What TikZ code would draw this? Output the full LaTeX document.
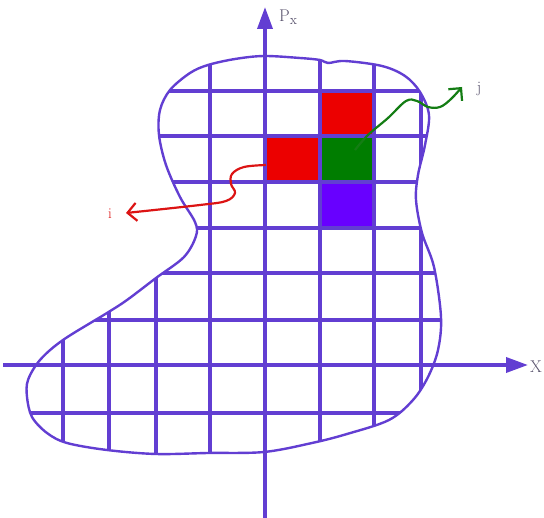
\documentclass[tikz,border=0pt]{standalone}
\usetikzlibrary{arrows.meta}
\definecolor{gridc}{RGB}{98,62,210}
\definecolor{cellred}{RGB}{236,0,0}
\definecolor{cellgreen}{RGB}{0,125,0}
\definecolor{cellpurple}{RGB}{104,0,255}
\definecolor{labgray}{RGB}{90,84,110}
\definecolor{ired}{RGB}{220,20,20}
\definecolor{jgreen}{RGB}{20,125,20}
\begin{document}
\begin{tikzpicture}[x=1pt,y=-1pt,
  gridline/.style={draw=gridc,line width=3.8pt},
  outline/.style={draw=gridc,line width=2.4pt},
  axis/.style={draw=gridc,line width=3.6pt,-{Triangle[length=22pt,width=15pt]}},
  wavyi/.style={draw=ired,line width=2.2pt,-{Straight Barb[length=9pt,width=18pt,line width=2.2pt]}},
  wavyj/.style={draw=jgreen,line width=2.2pt,-{Straight Barb[length=9pt,width=18pt,line width=2.2pt]}},
  lab/.style={text=labgray,font=\fontsize{17}{19}\selectfont,inner sep=0pt}
]
\useasboundingbox (0,0) rectangle (544,518);
\def\blob{plot[smooth cycle,tension=0.55] coordinates {(170,90) (190,73) (208,65) (235,59) (264,56) (300,58) (320,60) (328,63) (345,61) (382,66) (405,76) (420,92) (429,115) (425,145) (418,175) (416,200) (422,233) (434,267) (441,317) (438,350) (428,377) (413,400) (389,420) (347,434) (312,443) (264,452) (208,453) (156,454) (107,450) (67,443) (47,433) (32,417) (27,397) (28,380) (40,360) (63,340) (107,313) (127,300) (156,278) (184,257) (196,236) (195,222) (180,197) (166,165) (159,135) (160,110)}}
% coloured cells
\fill[cellred] (320,91) rectangle (374,136);
\fill[cellred] (265,136) rectangle (320,182);
\fill[cellgreen] (320,136) rectangle (374,182);
\fill[cellpurple] (320,182) rectangle (374,228);
% grid
\begin{scope}
\clip \blob;
\foreach \yy in {91,136,182,228,273,320,413}
  \draw[gridline] (0,\yy) -- (544,\yy);
\foreach \xx in {63,109,156,210,320,374,421}
  \draw[gridline] (\xx,0) -- (\xx,518);
\end{scope}
\draw[outline] \blob;
% axes
\coordinate (xleft) at (3,365);
\coordinate (xright) at (528,365);
\coordinate (ybot) at (265,518);
\coordinate (ytop) at (265,7);
\draw[axis] (ybot) -- (ytop);
\draw[axis] (xleft) -- (xright);
\node[lab,anchor=west] (px) at (279,17) {P\raisebox{-0.35ex}{\fontsize{14}{15}\selectfont x}};
\node[lab,anchor=west] (xl) at (530,367) {X};
% wavy arrows
\draw[wavyi] plot[smooth,tension=0.6] coordinates {(266,165) (244,167) (232,174) (231,184) (235,193) (226,201) (200,205) (126,213)};
\node[text=ired,font=\fontsize{15}{17}\selectfont,inner sep=0pt] (il) at (110,214) {i};
\draw[wavyj] plot[smooth,tension=0.6] coordinates {(355,150) (368,135) (388,118) (406,101) (417,101) (428,107) (440,107) (451,99) (462,87)};
\node[text=labgray,font=\fontsize{16}{18}\selectfont,inner sep=0pt] (jl) at (479,89) {j};
\end{tikzpicture}
\end{document}
